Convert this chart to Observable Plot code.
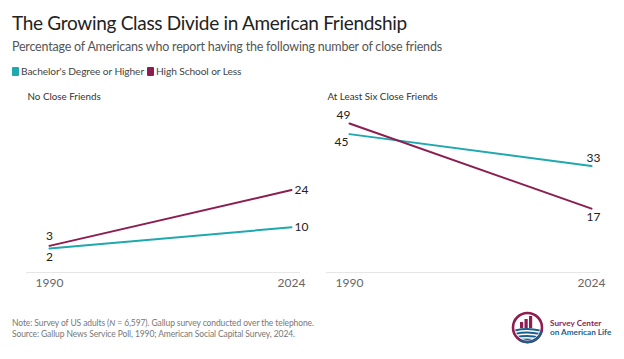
<!DOCTYPE html>
<html>
<head>
<meta charset="utf-8">
<script src="https://cdn.jsdelivr.net/npm/d3@7"></script>
<script src="https://cdn.jsdelivr.net/npm/@observablehq/plot@0.6"></script>
<style>
  html, body { margin: 0; padding: 0; background: #fff; }
  #wrap { position: relative; width: 624px; height: 359px; background: #fff; font-family: Lato, "Open Sans", sans-serif; overflow: hidden; }
  .abs { position: absolute; white-space: nowrap; }
  #title { left: 12px; top: 12px; font-size: 19px; letter-spacing: -0.3px; line-height: 22px; color: #222; }
  #subtitle { left: 12px; top: 38.5px; font-size: 12.5px; letter-spacing: -0.2px; line-height: 15px; color: #555; }
  #legend { left: 12px; top: 65px; font-size: 10.2px; letter-spacing: -0.1px; line-height: 12px; color: #444; display: flex; align-items: center; }
  #legend .sw { display: inline-block; width: 7px; height: 9px; margin-right: 2px; border-radius: 1px; }
  #legend .item { display: inline-flex; align-items: center; margin-right: 3px; }
  #chart { left: 0; top: 88px; }
  #foot { left: 12px; top: 318px; font-size: 8.5px; letter-spacing: -0.1px; line-height: 10.5px; color: #777; }
  #logo { left: 508px; top: 308px; }
</style>
</head>
<body>
<div id="wrap">
  <div id="title" class="abs">The Growing Class Divide in American Friendship</div>
  <div id="subtitle" class="abs">Percentage of Americans who report having the following number of close friends</div>
  <div id="legend" class="abs"></div>
  <div id="chart" class="abs"></div>
  <div id="foot" class="abs">Note: Survey of US adults (<i>N</i> = 6,597). Gallup survey conducted over the telephone.<br>Source: Gallup News Service Poll, 1990; American Social Capital Survey, 2024.</div>
  <div id="logo" class="abs">
    <svg width="110" height="42" viewBox="0 0 110 42">
      <defs>
        <clipPath id="cc"><circle cx="19.5" cy="19.5" r="12.5"/></clipPath>
      </defs>
      <circle cx="19.5" cy="19.5" r="14.5" fill="none" stroke="#8e1e52" stroke-width="2.6"/>
      <path d="M 33.5 23 A 14.5 14.5 0 0 1 12 32" fill="none" stroke="#1d5f8c" stroke-width="2.6"/>
      <g clip-path="url(#cc)">
        <rect x="12" y="14" width="3.2" height="6" fill="#8e1e52"/>
        <rect x="16.5" y="11" width="3.2" height="9" fill="#8e1e52"/>
        <rect x="21" y="8" width="3.2" height="12" fill="#8e1e52"/>
        <path d="M 5 22 Q 19 18 34 22 L 34 24 Q 19 20 5 24 Z" fill="#1d5f8c"/>
        <path d="M 5 25.5 Q 19 21.5 34 25.5 L 34 27.5 Q 19 23.5 5 27.5 Z" fill="#1d5f8c"/>
        <path d="M 5 29 Q 19 25 34 29 L 34 31 Q 19 27 5 31 Z" fill="#1d5f8c"/>
        <path d="M 5 32.5 Q 19 28.5 34 32.5 L 34 40 L 5 40 Z" fill="#1d5f8c"/>
      </g>
      <text x="42" y="18" font-family="Lato, sans-serif" font-weight="bold" font-size="8.2" fill="#8e1e52">Survey Center</text>
      <text x="42" y="27" font-family="Lato, sans-serif" font-weight="bold" font-size="8.2" fill="#1d5f8c">on American Life</text>
    </svg>
  </div>
</div>
<script>
// ---- Data ----
const panels = ["No Close Friends", "At Least Six Close Friends"];
const seriesNames = ["Bachelor's Degree or Higher", "High School or Less"];
const years = [1990, 2024];
const bachelorNoFriends = [2, 10];
const highSchoolNoFriends = [3, 24];
const bachelorSixPlus = [45, 33];
const highSchoolSixPlus = [49, 17];
const seriesColors = ["#1fa8ad", "#8c1d50"];

// ---- Build table ----
const valuesBy = {
  [panels[0]]: [bachelorNoFriends, highSchoolNoFriends],
  [panels[1]]: [bachelorSixPlus, highSchoolSixPlus]
};
const rows = [];
for (const p of panels) {
  seriesNames.forEach((s, si) => {
    years.forEach((yr, yi) => {
      rows.push({panel: p, series: s, year: yr, value: valuesBy[p][si][yi]});
    });
  });
}
// label placement: higher of the pair above, lower below; end of first panel to the right
for (const r of rows) {
  const other = rows.find(o => o.panel === r.panel && o.year === r.year && o.series !== r.series);
  if (r.panel === panels[0] && r.year === years[1]) r.pos = "right";
  else r.pos = r.value >= other.value ? "above" : "below";
}

// ---- Legend ----
const legend = document.getElementById("legend");
seriesNames.forEach((s, i) => {
  const item = document.createElement("span");
  item.className = "item";
  item.innerHTML = `<span class="sw" style="background:${seriesColors[i]}"></span>${s}`;
  legend.appendChild(item);
});

// ---- Chart ----
const labelFont = 12;
const isStart = r => r.year === years[0];
const chart = Plot.plot({
  width: 624,
  height: 205,
  marginLeft: 26,
  marginRight: 24,
  marginTop: 27,
  marginBottom: 21,
  style: {fontFamily: "Lato, sans-serif", background: "transparent", overflow: "visible"},
  fx: {domain: panels, paddingInner: 26 / 300, paddingOuter: 0, axis: null, round: false},
  x: {domain: [years[0], years[1]], insetLeft: 23, insetRight: 9, label: null},
  y: {domain: [-7, 52], axis: null},
  color: {domain: seriesNames, range: seriesColors},
  marks: [
    Plot.ruleY([-7], {stroke: "#e6e6e6", strokeWidth: 1}),
    Plot.axisX({ticks: years, tickFormat: d => String(d), tickSize: 0, tickPadding: 6, fontSize: 12, color: "#666", label: null, style: {letterSpacing: "-0.4px"}}),
    Plot.line(rows, {fx: "panel", x: "year", y: "value", z: "series", stroke: "series", strokeWidth: 2}),
    Plot.text(panels, {fx: d => d, text: d => d, frameAnchor: "top-left", lineAnchor: "bottom", dy: -16, dx: 1, fontSize: 9.8, fill: "#333"}),
    // start labels, first panel
    Plot.text(rows.filter(r => r.panel === panels[0] && isStart(r) && r.pos === "above"), {fx: "panel", x: "year", y: "value", text: "value", dy: -10, fontSize: labelFont, fill: "#222"}),
    Plot.text(rows.filter(r => r.panel === panels[0] && isStart(r) && r.pos === "below"), {fx: "panel", x: "year", y: "value", text: "value", dy: 9, fontSize: labelFont, fill: "#222"}),
    // start labels, second panel
    Plot.text(rows.filter(r => r.panel === panels[1] && isStart(r) && r.pos === "above"), {fx: "panel", x: "year", y: "value", text: "value", dy: -8, dx: -6, fontSize: labelFont, fill: "#222"}),
    Plot.text(rows.filter(r => r.panel === panels[1] && isStart(r) && r.pos === "below"), {fx: "panel", x: "year", y: "value", text: "value", dy: 8, dx: -8, fontSize: labelFont, fill: "#222"}),
    // end labels
    Plot.text(rows.filter(r => r.pos === "right"), {fx: "panel", x: "year", y: "value", text: "value", dx: 3, textAnchor: "start", fontSize: labelFont, fill: "#222"}),
    Plot.text(rows.filter(r => !isStart(r) && r.pos === "above"), {fx: "panel", x: "year", y: "value", text: "value", dy: -8, dx: 2, fontSize: labelFont, fill: "#222"}),
    Plot.text(rows.filter(r => !isStart(r) && r.pos === "below"), {fx: "panel", x: "year", y: "value", text: "value", dy: 9, dx: 2, fontSize: labelFont, fill: "#222"})
  ]
});
document.getElementById("chart").appendChild(chart);
</script>
</body>
</html>
